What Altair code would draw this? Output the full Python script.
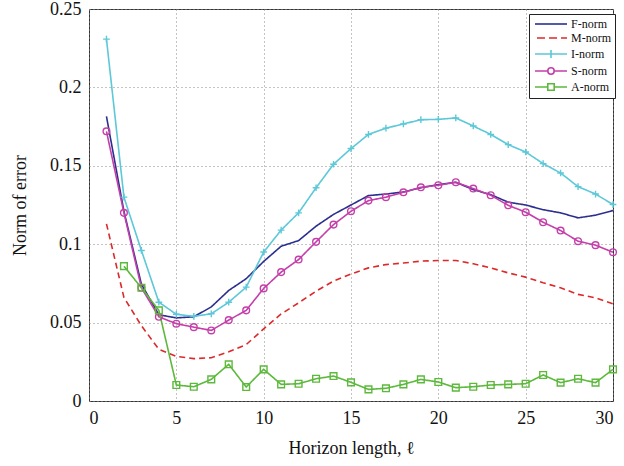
import altair as alt
import pandas as pd

x_vals = list(range(1, 31))
x_a = list(range(2, 31))

f_norm = [0.1815, 0.121, 0.0745, 0.055, 0.053, 0.0537, 0.060, 0.0705, 0.078, 0.089,
          0.0987, 0.1023, 0.1115, 0.119, 0.125, 0.131, 0.132, 0.1333, 0.136, 0.138,
          0.1395, 0.1348, 0.1316, 0.1268, 0.125, 0.122, 0.120, 0.1168, 0.1185, 0.1215]
m_norm = [0.113, 0.066, 0.048, 0.033, 0.0285, 0.027, 0.0276, 0.0314, 0.036, 0.046,
          0.0555, 0.0626, 0.070, 0.0765, 0.081, 0.0849, 0.087, 0.088, 0.0892, 0.0896,
          0.0896, 0.0875, 0.0849, 0.0817, 0.079, 0.0754, 0.0722, 0.068, 0.0658, 0.062]
i_norm = [0.2308, 0.130, 0.096, 0.063, 0.0553, 0.054, 0.0556, 0.063, 0.0726, 0.095,
          0.109, 0.120, 0.136, 0.151, 0.161, 0.170, 0.174, 0.1767, 0.1794, 0.1796,
          0.1805, 0.1754, 0.170, 0.1635, 0.1588, 0.1514, 0.1454, 0.1367, 0.132, 0.1253]
s_norm = [0.172, 0.120, 0.0722, 0.0537, 0.0493, 0.0471, 0.045, 0.0516, 0.0578, 0.0718,
          0.0822, 0.0902, 0.1015, 0.1125, 0.121, 0.1278, 0.130, 0.1331, 0.1363, 0.1376,
          0.1395, 0.1355, 0.1312, 0.1248, 0.1204, 0.114, 0.1087, 0.1019, 0.0994, 0.0949]
a_norm = [0.086, 0.0722, 0.0578, 0.0102, 0.0091, 0.0138, 0.0234, 0.0089, 0.0202, 0.0106,
          0.011, 0.0142, 0.0159, 0.0119, 0.0074, 0.0081, 0.0106, 0.0138, 0.0121, 0.0085,
          0.0091, 0.0102, 0.0106, 0.011, 0.0166, 0.0117, 0.0142, 0.0117, 0.0202]

names = ["F-norm", "M-norm", "I-norm", "S-norm", "A-norm"]
colors = ["#2b2f8e", "#dc2a2a", "#5cc8d8", "#c43fa9", "#5cb93c"]
dashes = [[1, 0], [6, 4], [1, 0], [1, 0], [1, 0]]

x_ticks = [0, 5, 10, 15, 20, 25, 30]
y_ticks = [0, 0.05, 0.1, 0.15, 0.2, 0.25]

rows = []
for name, xs, ys in [("F-norm", x_vals, f_norm), ("M-norm", x_vals, m_norm),
                     ("I-norm", x_vals, i_norm), ("S-norm", x_vals, s_norm),
                     ("A-norm", x_a, a_norm)]:
    for xv, yv in zip(xs, ys):
        rows.append({"series": name, "x": xv, "y": yv})
df = pd.DataFrame(rows)

FONT = "Liberation Serif"

x_enc = alt.X("x:Q", scale=alt.Scale(domain=[0, 30], nice=False),
              axis=alt.Axis(values=x_ticks, title="Horizon length, ℓ", format="d"))
y_enc = alt.Y("y:Q", scale=alt.Scale(domain=[0, 0.25], nice=False),
              axis=alt.Axis(values=y_ticks, title="Norm of error", format="~g"))

color_enc = alt.Color("series:N", scale=alt.Scale(domain=names, range=colors), legend=None)

lines = alt.Chart(df).mark_line(strokeWidth=1.6).encode(
    x=x_enc, y=y_enc, color=color_enc,
    strokeDash=alt.StrokeDash("series:N", scale=alt.Scale(domain=names, range=dashes), legend=None),
    order="x:Q",
)

marker_names = ["I-norm", "S-norm", "A-norm"]
marker_shapes = ["M-1,0H1M0,-1V1", "circle", "square"]
points = alt.Chart(df).transform_filter(
    alt.FieldOneOfPredicate(field="series", oneOf=marker_names)
).mark_point(filled=False, size=45, strokeWidth=1.4, opacity=1).encode(
    x=x_enc, y=y_enc, color=color_enc,
    shape=alt.Shape("series:N", scale=alt.Scale(domain=marker_names, range=marker_shapes), legend=None),
)

legend_paths = [
    "M-1,0H7",
    "M-0.5,0H1.5M2.5,0H4.5M5.5,0H7",
    "M-1,0H7M3,-1V1",
    "M-1,0H2.2M3.8,0H7M3.8,0A0.8,0.8,0,1,1,2.2,0A0.8,0.8,0,1,1,3.8,0",
    "M-1,0H2.2M3.8,0H7M2.2,-0.8H3.8V0.8H2.2Z",
]
leg = alt.Legend(title=None, orient="none", legendX=440, legendY=5,
                 strokeColor="#222", fillColor="white", padding=4, cornerRadius=0,
                 labelFont=FONT, labelFontSize=12, labelColor="#111",
                 symbolSize=64, symbolStrokeWidth=1.6, labelOffset=26,
                 rowPadding=2, symbolFillColor="transparent")
legend_layer = alt.Chart(df).transform_filter("false").mark_point(filled=False, opacity=1).encode(
    x=x_enc, y=y_enc,
    shape=alt.Shape("series:N", scale=alt.Scale(domain=names, range=legend_paths), legend=leg),
    color=alt.Color("series:N", scale=alt.Scale(domain=names, range=colors), legend=leg),
)

chart = alt.layer(lines, points, legend_layer).resolve_scale(
    shape="independent", color="independent"
).properties(
    width=524, height=392,
    autosize=alt.AutoSizeParams(type="none"),
    padding={"left": 89, "top": 9, "right": 11, "bottom": 65},
).configure_view(
    stroke="#333", strokeWidth=1
).configure_axis(
    labelFont=FONT, titleFont=FONT, labelFontSize=18, titleFontSize=18,
    labelColor="#111", titleColor="#111", titleFontWeight="normal",
    grid=True, gridColor="#888", gridDash=[1, 3], gridWidth=1,
    domain=False, ticks=False, labelPadding=8,
).configure_axisX(
    titlePadding=12
).configure_axisY(
    titlePadding=20
)

chart.save("out.html", embed_options={"renderer": "svg", "actions": False})
